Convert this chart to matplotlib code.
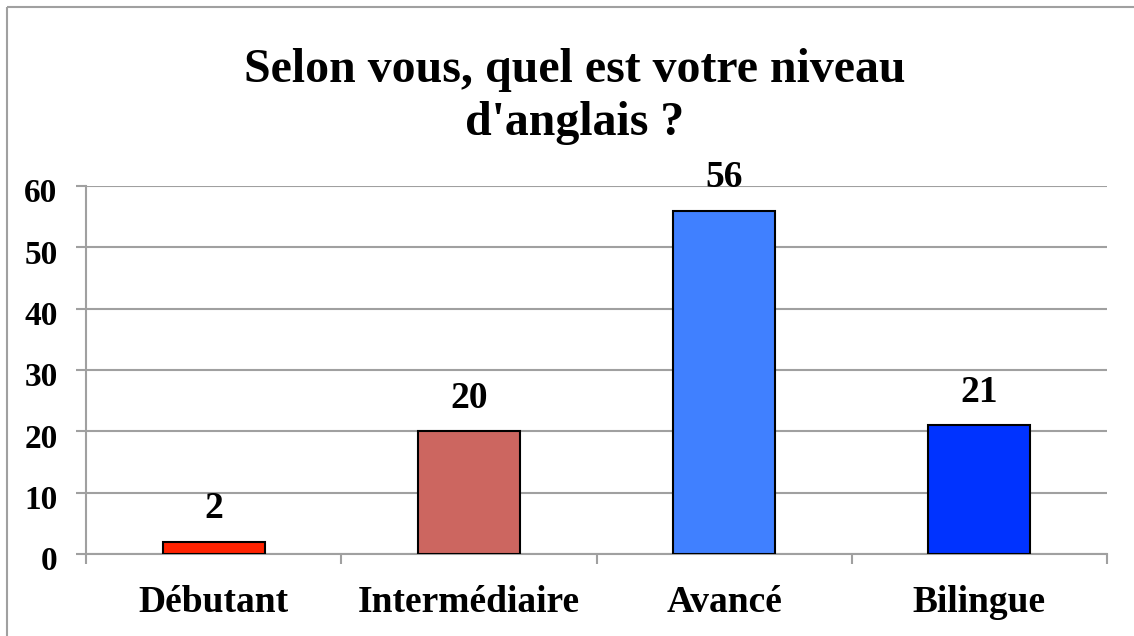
import matplotlib
matplotlib.use("Agg")
import matplotlib.pyplot as plt
from matplotlib.patches import Rectangle
from matplotlib.ticker import FixedLocator
from matplotlib.transforms import ScaledTranslation

categories = ["Débutant", "Intermédiaire", "Avancé", "Bilingue"]
values = [2, 20, 56, 21]
colors = ["#FF2200", "#CC6660", "#4080FF", "#0033FF"]
yticks = [0, 10, 20, 30, 40, 50, 60]
title_lines = ["Selon vous, quel est votre niveau", "d'anglais ?"]

W, H = 1134, 636
plt.rcParams['font.family'] = ['Liberation Serif', 'DejaVu Serif']
fig = plt.figure(figsize=(W / 100, H / 100), dpi=100)

# outer frame
fig.patches.append(Rectangle((7 / W, 1 - 7 / H), 2, -2, transform=fig.transFigure,
                             fill=False, edgecolor="#A0A0A0", linewidth=1.5))

ax = fig.add_axes([86 / W, 1 - 554 / H, (1107 - 86) / W, (554 - 186) / H])
x = list(range(len(categories)))
ax.bar(x, values, width=0.4, color=colors, edgecolor="black", linewidth=1.5, zorder=3)
for xi, v in zip(x, values):
    ax.annotate(str(v), (xi, v), xytext=(0, 11), textcoords="offset points",
                ha="center", va="bottom", fontsize=27, fontweight="bold")

ax.set_xlim(-0.5, len(categories) - 0.5)
ax.set_ylim(0, 60)
ax.set_yticks(yticks)
ax.set_xticks(x)
ax.set_xticklabels(categories, fontsize=27, fontweight="bold")
ax.xaxis.set_minor_locator(FixedLocator([i - 0.5 for i in range(len(categories) + 1)]))
ax.tick_params(axis="x", which="major", length=0, pad=22)
ax.tick_params(axis="x", which="minor", length=7.5, width=1.5, color="#A0A0A0")
ax.tick_params(axis="y", length=7.5, width=1.5, color="#A0A0A0", pad=13, labelsize=24)
shift = ScaledTranslation(0, -3 / 72, fig.dpi_scale_trans)
for lab in ax.get_yticklabels():
    lab.set_fontweight("bold")
    lab.set_transform(lab.get_transform() + shift)
ax.grid(axis="y", color="#A0A0A0", linewidth=1.5, zorder=0)
for s in ["top", "right"]:
    ax.spines[s].set_visible(False)
for s in ["left", "bottom"]:
    ax.spines[s].set_color("#A0A0A0")
    ax.spines[s].set_linewidth(1.5)

fig.text(575 / W, 1 - 82 / H, title_lines[0], ha="center", va="baseline",
         fontsize=34.5, fontweight="bold")
fig.text(575 / W, 1 - 135 / H, title_lines[1], ha="center", va="baseline",
         fontsize=34.5, fontweight="bold")

fig.savefig("out.png", dpi=100)
